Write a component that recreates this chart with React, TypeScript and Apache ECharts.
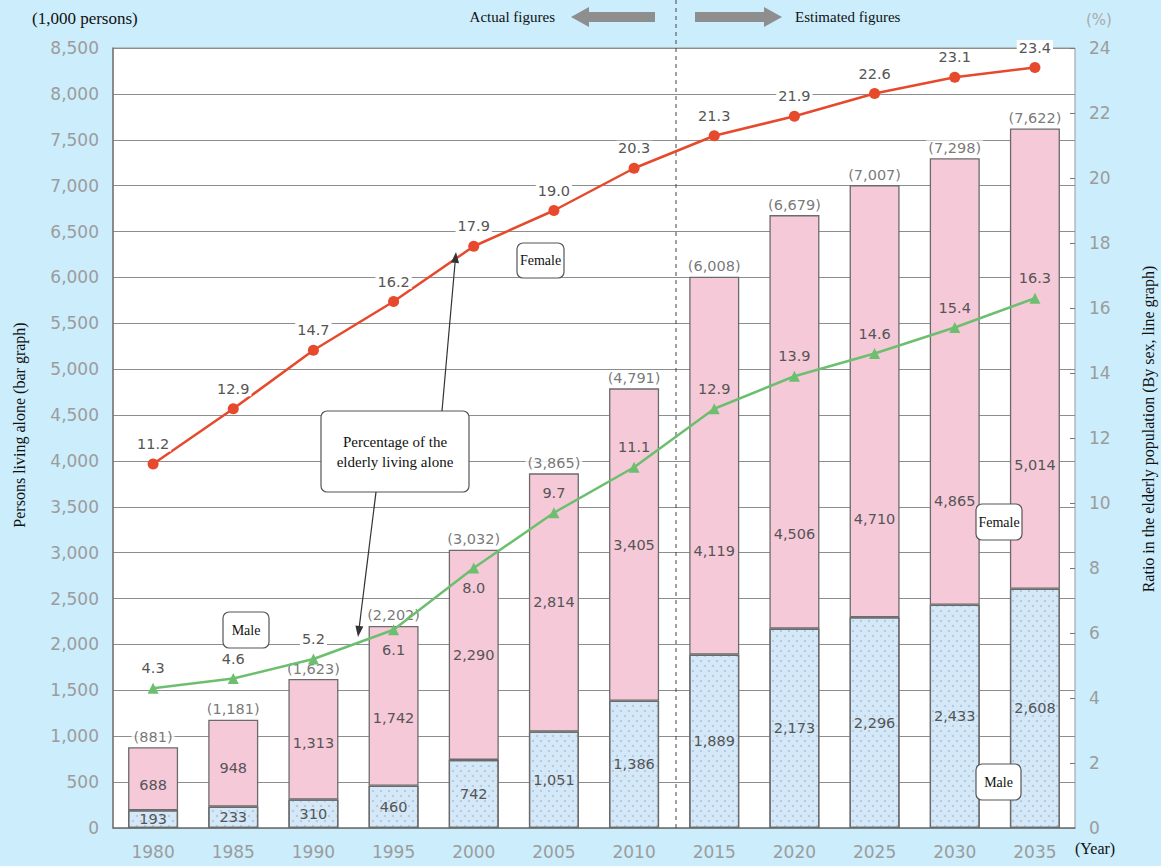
import React, { useEffect, useRef } from 'react';
import * as echarts from 'echarts';

const years = ['1980', '1985', '1990', '1995', '2000', '2005', '2010', '2015', '2020', '2025', '2030', '2035'];
const maleCount = [193, 233, 310, 460, 742, 1051, 1386, 1889, 2173, 2296, 2433, 2608];
const femaleCount = [688, 948, 1313, 1742, 2290, 2814, 3405, 4119, 4506, 4710, 4865, 5014];
const totalCount = [881, 1181, 1623, 2202, 3032, 3865, 4791, 6008, 6679, 7007, 7298, 7622];
const femaleRatio = [11.2, 12.9, 14.7, 16.2, 17.9, 19.0, 20.3, 21.3, 21.9, 22.6, 23.1, 23.4];
const maleRatio = [4.3, 4.6, 5.2, 6.1, 8.0, 9.7, 11.1, 12.9, 13.9, 14.6, 15.4, 16.3];

// label styling (placement tweaks only)
const femaleLabelDy = [6, 5, 4, 12, 0, 0, 0, 85, 112, 118, 119, 106];
const maleLabelPos = ['top', 'top', 'top', 'bottom', 'bottom', 'top', 'top', 'top', 'top', 'top', 'top', 'top'];
const maleLabelOnWhite = [true, true, true, false, false, false, false, false, false, false, false, false];

const fmt = (v: number) => v.toLocaleString('en-US');

const SERIF = '"Liberation Serif", "Times New Roman", serif';
const SANS = '"DejaVu Sans", sans-serif';

function arrow(x1: number, y1: number, x2: number, y2: number) {
  const dx = x2 - x1, dy = y2 - y1;
  const L = Math.sqrt(dx * dx + dy * dy);
  const ux = dx / L, uy = dy / L;
  const len = 11, w = 4;
  const bx = x2 - ux * len, by = y2 - uy * len;
  const px = -uy, py = ux;
  return [
    { type: 'line', z: 100, shape: { x1, y1, x2: bx, y2: by }, style: { stroke: '#333', lineWidth: 1.2 } },
    { type: 'polygon', z: 100, shape: { points: [[x2, y2], [bx + px * w, by + py * w], [bx - px * w, by - py * w]] }, style: { fill: '#333' } },
  ];
}

function callout(x: number, y: number, w: number, h: number, text: string, fontSize = 14) {
  return [
    { type: 'rect', z: 100, shape: { x, y, width: w, height: h, r: 6 }, style: { fill: '#fff', stroke: '#555', lineWidth: 1.2 } },
    {
      type: 'text', z: 101, x: x + w / 2, y: y + h / 2,
      style: { text, font: `${fontSize}px ${SERIF}`, fill: '#111', textAlign: 'center', textVerticalAlign: 'middle', align: 'center', verticalAlign: 'middle', lineHeight: 20 },
    },
  ];
}

export default function App() {
  const ref = useRef<HTMLDivElement>(null);
  useEffect(() => {
    if (!ref.current) return;
    const chart = echarts.init(ref.current, undefined, { renderer: 'svg' });
    const axisLabelStyle = { color: '#9c9c9c', fontSize: 17, fontFamily: SANS };
    const dataLabel = { color: '#555', fontSize: 14.5, fontFamily: SANS };
    const option: any = {
      animation: false,
      backgroundColor: '#cbedfc',
      grid: { left: 113, right: 86, top: 48, bottom: 38, show: true, backgroundColor: '#fff', borderColor: '#999', borderWidth: 1 },
      xAxis: {
        type: 'category',
        data: years,
        axisLine: { lineStyle: { color: '#777', width: 1.5 } },
        axisTick: { inside: true, length: 6, lineStyle: { color: '#666' } },
        axisLabel: { ...axisLabelStyle, margin: 15 },
      },
      yAxis: [
        {
          type: 'value', min: 0, max: 8500, interval: 500,
          axisLine: { show: true, lineStyle: { color: '#777', width: 1.5 } },
          axisTick: { show: false },
          splitLine: { lineStyle: { color: '#8d8d8d', width: 1 } },
          axisLabel: { ...axisLabelStyle, margin: 14, formatter: (v: number) => fmt(v) },
        },
        {
          type: 'value', min: 0, max: 24, interval: 2, position: 'right',
          axisLine: { show: false },
          axisTick: { show: true, inside: true, length: 5, lineStyle: { color: '#777' } },
          splitLine: { show: false },
          axisLabel: { ...axisLabelStyle, margin: 14 },
        },
      ],
      series: [
        {
          name: 'Male', type: 'bar', stack: 'p', barWidth: 50,
          data: maleCount,
          itemStyle: {
            color: '#d4e8f7', borderColor: '#6b6b6b', borderWidth: 1.3,
            decal: { symbol: 'circle', symbolSize: 1, color: 'rgba(135,165,205,0.55)', dashArrayX: [[2, 6], [0, 4, 2, 2]], dashArrayY: [2, 3] },
          },
          label: { show: true, position: 'inside', ...dataLabel, formatter: (p: any) => fmt(p.value) },
        },
        {
          name: 'Female', type: 'bar', stack: 'p', barWidth: 50,
          data: femaleCount.map((v, i) => ({ value: v, label: { offset: [0, femaleLabelDy[i]] } })),
          itemStyle: { color: '#f6c9d9', borderColor: '#6b6b6b', borderWidth: 1.3 },
          label: { show: true, position: 'inside', ...dataLabel, formatter: (p: any) => fmt(p.value) },
        },
        {
          name: 'Total', type: 'scatter', symbolSize: 0, z: 4,
          data: totalCount,
          label: {
            show: true, position: 'top', distance: 3, ...dataLabel,
            backgroundColor: '#fff', padding: [0, 2],
            formatter: (p: any) => `(${fmt(p.value)})`,
          },
        },
        {
          name: 'Female ratio', type: 'line', yAxisIndex: 1, z: 6,
          data: femaleRatio,
          symbol: 'circle', symbolSize: 11,
          itemStyle: { color: '#e6492c' },
          lineStyle: { color: '#e6492c', width: 2.5 },
          label: {
            show: true, position: 'top', distance: 7, ...dataLabel,
            backgroundColor: '#fff', padding: [0, 2],
            formatter: (p: any) => p.value.toFixed(1),
          },
        },
        {
          name: 'Male ratio', type: 'line', yAxisIndex: 1, z: 6,
          data: maleRatio.map((v, i) => ({
            value: v,
            label: {
              position: maleLabelPos[i],
              backgroundColor: maleLabelOnWhite[i] ? '#fff' : 'transparent',
            },
          })),
          symbol: 'triangle', symbolSize: 11,
          itemStyle: { color: '#6cbf6e' },
          lineStyle: { color: '#6cbf6e', width: 2.5 },
          label: {
            show: true, position: 'top', distance: 7, ...dataLabel, padding: [0, 2],
            formatter: (p: any) => p.value.toFixed(1),
          },
        },
      ],
      graphic: [
        { type: 'text', x: 32, y: 18, style: { text: '(1,000 persons)', font: `17px ${SERIF}`, fill: '#111', textVerticalAlign: 'middle', verticalAlign: 'middle' } },
        { type: 'text', x: 555, y: 17, style: { text: 'Actual figures', font: `15px ${SERIF}`, fill: '#111', textAlign: 'right', align: 'right', textVerticalAlign: 'middle', verticalAlign: 'middle' } },
        { type: 'polygon', shape: { points: [[571, 17], [589, 7], [589, 12], [655, 12], [655, 22], [589, 22], [589, 27]] }, style: { fill: '#8e8e8e' } },
        { type: 'line', z: 1, shape: { x1: 676, y1: 0, x2: 676, y2: 828 }, style: { stroke: '#444', lineWidth: 1, lineDash: [4, 4] } },
        { type: 'polygon', shape: { points: [[695, 12], [764, 12], [764, 7], [782, 17], [764, 27], [764, 22], [695, 22]] }, style: { fill: '#8e8e8e' } },
        { type: 'text', x: 795, y: 17, style: { text: 'Estimated figures', font: `15px ${SERIF}`, fill: '#111', textVerticalAlign: 'middle', verticalAlign: 'middle' } },
        { type: 'text', x: 1099, y: 20, style: { text: '(%)', font: `15px ${SANS}`, fill: '#aaa', textAlign: 'center', align: 'center', textVerticalAlign: 'middle', verticalAlign: 'middle' } },
        { type: 'text', x: 1075, y: 848, style: { text: '(Year)', font: `16px ${SERIF}`, fill: '#111', textVerticalAlign: 'middle', verticalAlign: 'middle' } },
        { type: 'text', x: 19, y: 425, rotation: Math.PI / 2, style: { text: 'Persons living alone (bar graph)', font: `16px ${SERIF}`, fill: '#111', textAlign: 'center', align: 'center', textVerticalAlign: 'middle', verticalAlign: 'middle' } },
        { type: 'text', x: 1148, y: 429, rotation: Math.PI / 2, style: { text: 'Ratio in the elderly population (By sex, line graph)', font: `16px ${SERIF}`, fill: '#111', textAlign: 'center', align: 'center', textVerticalAlign: 'middle', verticalAlign: 'middle' } },
        ...callout(517, 243, 47, 35, 'Female'),
        ...callout(223, 612, 46, 36, 'Male'),
        ...callout(976, 504, 46, 36, 'Female'),
        ...callout(976, 764, 45, 36, 'Male'),
        ...callout(321, 411, 148, 81, 'Percentage of the\nelderly living alone', 15),
        ...arrow(442, 411, 456, 252),
        ...arrow(376, 492, 358, 637),
      ],
    };
    chart.setOption(option);
    return () => chart.dispose();
  }, []);
  return <div ref={ref} style={{ position: 'absolute', left: 0, top: 0, width: 1161, height: 866 }} />;
}
